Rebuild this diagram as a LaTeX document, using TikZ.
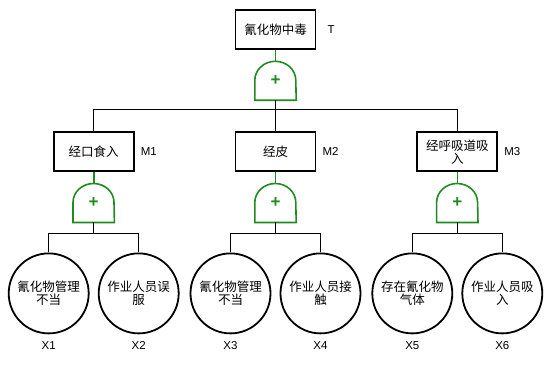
\documentclass[tikz,border=0pt]{standalone}
\usepackage{fontspec}
\setmainfont{Liberation Sans}
\newfontfamily\cjk{Noto Sans CJK SC}
\usetikzlibrary{positioning}
\definecolor{gatecol}{RGB}{30,140,30}

\begin{document}
\begin{tikzpicture}[
		x=1pt, y=1pt,
		% Define styles
		base/.style={draw=black, line width=1.8pt, align=center, inner sep=0pt, font=\cjk\fontsize{12.5}{13}\selectfont},
		event/.style={base, rectangle, minimum width=80pt, minimum height=39pt},
		basic/.style={base, circle, minimum size=80pt},
		orgate/.style={rectangle, minimum width=41pt, minimum height=39pt, inner sep=0pt, text=gatecol, font=\bfseries\fontsize{17}{17}\selectfont},
		tag/.style={inner sep=0pt, font=\fontsize{11.5}{12}\selectfont},
		link/.style={draw=black, line width=1.5pt},
		gateline/.style={draw=gatecol, line width=1.6pt}
		]
		
		\useasboundingbox (0,0) rectangle (550,-390);
		
		% 1. Top event
		\node[event] (t) at (275.5,-29.5) {氰化物中毒};
		\node[tag, right=11pt of t] (ttag) {T};
		\node[orgate, below=11pt of t] (g0) {+};
		
		% 2. Middle events
		\node[event, below=31pt of g0] (m2) {经皮};
		\node[event, left=100pt of m2] (m1) {经口食入};
		\node[event, right=100pt of m2] (m3) {经呼吸道吸\\入};
		\node[tag, right=6pt of m1] (m1tag) {M1};
		\node[tag, right=6pt of m2] (m2tag) {M2};
		\node[tag, right=6pt of m3] (m3tag) {M3};
		
		\node[orgate, below=11pt of m1] (g1) {+};
		\node[orgate, below=11pt of m2] (g2) {+};
		\node[orgate, below=11pt of m3] (g3) {+};
		
		% 3. Basic events
		\node[basic, below=30pt of g1, xshift=-45pt] (x1) {氰化物管理\\不当};
		\node[basic, below=30pt of g1, xshift=45pt] (x2) {作业人员误\\服};
		\node[basic, below=30pt of g2, xshift=-45pt] (x3) {氰化物管理\\不当};
		\node[basic, below=30pt of g2, xshift=45pt] (x4) {作业人员接\\触};
		\node[basic, below=30pt of g3, xshift=-45pt] (x5) {存在氰化物\\气体};
		\node[basic, below=30pt of g3, xshift=45pt] (x6) {作业人员吸\\入};
		
		\foreach \n in {1,...,6}
			\node[tag, below=7pt of x\n] (x\n tag) {X\n};
		
		% OR gate outlines
		\foreach \g in {g0,g1,g2,g3}
			\draw[gateline] (\g.south west) -- ([yshift=20pt]\g.south west)
				arc[start angle=180, end angle=0, x radius=20.5pt, y radius=19pt]
				-- (\g.south east) -- cycle;
		
		% Connections
		\draw[gateline] (t) -- (g0);
		\draw[gateline] (m1) -- (g1);
		\draw[gateline] (m2) -- (g2);
		\draw[gateline] (m3) -- (g3);
		
		\draw[link] (g0.south) -- ++(0,-9) coordinate (bus0);
		\draw[link] (bus0) -| (m1.north);
		\draw[link] (bus0) -| (m3.north);
		\draw[link] (bus0) -- (m2.north);
		
		\draw[link] (g1.south) -- ++(0,-11) coordinate (bus1);
		\draw[link] (bus1) -| (x1.north);
		\draw[link] (bus1) -| (x2.north);
		\draw[link] (g2.south) -- ++(0,-11) coordinate (bus2);
		\draw[link] (bus2) -| (x3.north);
		\draw[link] (bus2) -| (x4.north);
		\draw[link] (g3.south) -- ++(0,-11) coordinate (bus3);
		\draw[link] (bus3) -| (x5.north);
		\draw[link] (bus3) -| (x6.north);
		
	\end{tikzpicture}
\end{document}
